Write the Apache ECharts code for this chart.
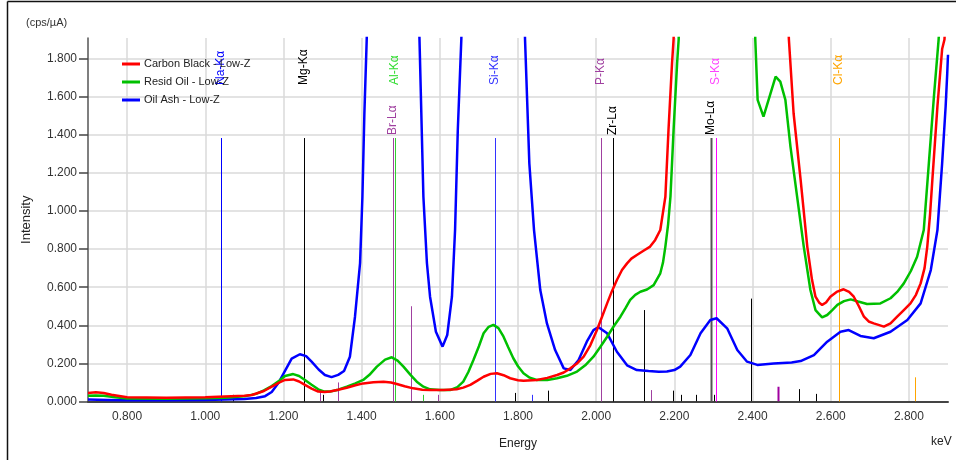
<!DOCTYPE html>
<html>
<head>
<meta charset="utf-8">
<script src="https://cdn.jsdelivr.net/npm/echarts@6.0.0/dist/echarts.min.js"></script>
<style>
  html, body { margin: 0; padding: 0; background: #fff; }
  #chart { width: 956px; height: 460px; }
</style>
</head>
<body>
<div id="chart"></div>
<script>
const FONT = "'Liberation Sans', Arial, sans-serif"

const xTicks = [0.8, 1.0, 1.2, 1.4, 1.6, 1.8, 2.0, 2.2, 2.4, 2.6, 2.8]
const yTicks = [0, 0.2, 0.4, 0.6, 0.8, 1.0, 1.2, 1.4, 1.6, 1.8]

// Oil Ash - Low-Z (blue)
const oilAshE = [0.70, 0.75, 0.80, 0.90, 1.00, 1.05, 1.10, 1.13, 1.153, 1.17, 1.187, 1.205, 1.221, 1.242, 1.258, 1.272, 1.29, 1.306, 1.323, 1.34, 1.355, 1.37, 1.383, 1.396, 1.402, 1.407, 1.413, 1.42, 1.486, 1.54, 1.548, 1.558, 1.567, 1.575, 1.59, 1.607, 1.619, 1.631, 1.639, 1.646, 1.655, 1.665, 1.74, 1.81, 1.818, 1.829, 1.841, 1.857, 1.874, 1.895, 1.917, 1.934, 1.955, 1.976, 1.993, 2.006, 2.028, 2.053, 2.079, 2.104, 2.134, 2.16, 2.181, 2.20, 2.215, 2.241, 2.267, 2.292, 2.308, 2.335, 2.361, 2.386, 2.412, 2.454, 2.50, 2.523, 2.557, 2.591, 2.625, 2.646, 2.676, 2.71, 2.753, 2.796, 2.83, 2.856, 2.873, 2.885, 2.894, 2.898, 2.90]
const oilAshI = [0.010, 0.008, 0.006, 0.006, 0.008, 0.010, 0.013, 0.018, 0.028, 0.050, 0.097, 0.165, 0.225, 0.248, 0.238, 0.209, 0.168, 0.139, 0.128, 0.140, 0.160, 0.235, 0.445, 0.727, 1.075, 1.51, 1.90, 2.5, 6.0, 2.5, 1.90, 1.075, 0.727, 0.55, 0.366, 0.288, 0.349, 0.55, 0.90, 1.425, 1.90, 2.6, 6.0, 2.6, 1.90, 1.25, 0.90, 0.585, 0.41, 0.27, 0.174, 0.165, 0.218, 0.314, 0.375, 0.390, 0.358, 0.261, 0.190, 0.165, 0.160, 0.156, 0.157, 0.165, 0.183, 0.244, 0.358, 0.428, 0.437, 0.384, 0.270, 0.209, 0.192, 0.200, 0.205, 0.212, 0.244, 0.314, 0.366, 0.375, 0.344, 0.332, 0.366, 0.428, 0.515, 0.690, 0.900, 1.25, 1.55, 1.72, 1.82]

// Resid Oil - Low-Z (green)
const residOilE = [0.70, 0.72, 0.74, 0.77, 0.80, 0.90, 1.00, 1.05, 1.10, 1.13, 1.15, 1.17, 1.19, 1.204, 1.225, 1.24, 1.255, 1.272, 1.289, 1.305, 1.319, 1.34, 1.362, 1.384, 1.404, 1.42, 1.439, 1.46, 1.477, 1.492, 1.507, 1.525, 1.541, 1.558, 1.575, 1.60, 1.626, 1.645, 1.66, 1.673, 1.686, 1.70, 1.712, 1.725, 1.737, 1.75, 1.763, 1.775, 1.788, 1.80, 1.814, 1.83, 1.848, 1.875, 1.90, 1.925, 1.951, 1.972, 1.993, 2.01, 2.028, 2.045, 2.062, 2.075, 2.087, 2.10, 2.113, 2.13, 2.147, 2.164, 2.171, 2.177, 2.184, 2.19, 2.198, 2.207, 2.211, 2.22, 2.30, 2.40, 2.407, 2.413, 2.428, 2.459, 2.471, 2.484, 2.497, 2.514, 2.531, 2.548, 2.561, 2.578, 2.591, 2.604, 2.617, 2.634, 2.651, 2.67, 2.693, 2.727, 2.753, 2.77, 2.787, 2.805, 2.821, 2.838, 2.851, 2.864, 2.876, 2.89, 2.90]
const residOilI = [0.030, 0.032, 0.030, 0.022, 0.016, 0.015, 0.017, 0.020, 0.027, 0.040, 0.058, 0.081, 0.110, 0.134, 0.144, 0.134, 0.113, 0.088, 0.064, 0.052, 0.052, 0.062, 0.078, 0.095, 0.113, 0.140, 0.183, 0.220, 0.232, 0.215, 0.183, 0.140, 0.104, 0.078, 0.064, 0.060, 0.060, 0.075, 0.104, 0.155, 0.218, 0.290, 0.358, 0.392, 0.402, 0.385, 0.340, 0.285, 0.227, 0.185, 0.148, 0.125, 0.113, 0.113, 0.122, 0.135, 0.157, 0.190, 0.235, 0.285, 0.340, 0.395, 0.445, 0.490, 0.533, 0.560, 0.576, 0.588, 0.611, 0.673, 0.730, 0.813, 0.930, 1.075, 1.425, 1.775, 1.90, 2.6, 8.0, 2.4, 1.90, 1.583, 1.495, 1.705, 1.679, 1.583, 1.338, 1.075, 0.813, 0.585, 0.480, 0.442, 0.454, 0.480, 0.507, 0.527, 0.536, 0.525, 0.512, 0.515, 0.542, 0.575, 0.620, 0.685, 0.760, 0.900, 1.25, 1.60, 1.90, 2.4, 2.7]

// Carbon Black - Low-Z (red)
const carbonE = [0.70, 0.72, 0.74, 0.76, 0.80, 0.90, 1.00, 1.05, 1.10, 1.119, 1.15, 1.17, 1.19, 1.204, 1.225, 1.24, 1.255, 1.272, 1.289, 1.305, 1.319, 1.34, 1.362, 1.384, 1.404, 1.43, 1.456, 1.475, 1.49, 1.51, 1.532, 1.555, 1.575, 1.61, 1.643, 1.66, 1.678, 1.695, 1.712, 1.73, 1.746, 1.763, 1.78, 1.80, 1.814, 1.848, 1.875, 1.90, 1.917, 1.934, 1.95, 1.968, 1.985, 2.002, 2.015, 2.028, 2.04, 2.053, 2.066, 2.079, 2.09, 2.104, 2.12, 2.138, 2.151, 2.164, 2.177, 2.185, 2.194, 2.198, 2.21, 2.30, 2.48, 2.493, 2.505, 2.523, 2.54, 2.552, 2.561, 2.57, 2.578, 2.588, 2.599, 2.615, 2.633, 2.647, 2.659, 2.672, 2.685, 2.697, 2.71, 2.736, 2.753, 2.77, 2.787, 2.804, 2.818, 2.83, 2.84, 2.847, 2.854, 2.86, 2.873, 2.885, 2.891, 2.90]
const carbonI = [0.045, 0.048, 0.045, 0.035, 0.022, 0.020, 0.022, 0.026, 0.030, 0.034, 0.055, 0.078, 0.100, 0.113, 0.116, 0.105, 0.087, 0.068, 0.052, 0.050, 0.053, 0.062, 0.072, 0.085, 0.095, 0.101, 0.104, 0.100, 0.092, 0.080, 0.069, 0.062, 0.060, 0.060, 0.064, 0.073, 0.087, 0.108, 0.130, 0.145, 0.148, 0.138, 0.122, 0.112, 0.109, 0.113, 0.124, 0.139, 0.152, 0.174, 0.198, 0.235, 0.295, 0.375, 0.445, 0.515, 0.578, 0.638, 0.690, 0.725, 0.750, 0.769, 0.790, 0.813, 0.848, 0.900, 1.075, 1.425, 1.775, 1.90, 2.6, 8.0, 2.6, 1.90, 1.513, 1.163, 0.813, 0.640, 0.550, 0.520, 0.507, 0.520, 0.550, 0.575, 0.589, 0.575, 0.550, 0.500, 0.445, 0.420, 0.410, 0.393, 0.410, 0.445, 0.480, 0.515, 0.560, 0.620, 0.700, 0.813, 0.980, 1.163, 1.55, 1.85, 1.90, 2.3]

// labelled element lines
const peakNames = ['Na-Kα', 'Mg-Kα', 'Br-Lα', 'Al-Kα', 'Si-Kα', 'P-Kα', 'Zr-Lα', 'Mo-Lα', 'S-Kα', 'Cl-Kα']
const peakEnergy = [1.041, 1.253, 1.480, 1.486, 1.740, 2.013, 2.042, 2.293, 2.307, 2.621]
const peakHeight = [1.383, 1.383, 1.383, 1.383, 1.383, 1.383, 1.383, 1.383, 1.383, 1.383]
const peakLow = [false, false, true, false, false, false, true, true, false, false]
const peakColor = ['#0000ff', '#000000', '#a040a0', '#33cc33', '#3333ff', '#a040a0', '#000000', '#555555', '#ff00ff', '#ffa500']
const peakTextColor = ['#0000ff', '#000000', '#a040a0', '#33dd33', '#3333ff', '#a040a0', '#000000', '#000000', '#ff44ff', '#ffa500']

// minor (unlabelled) lines
const minorEnergy = [1.071, 1.2935, 1.302, 1.339, 1.5265, 1.558, 1.595, 1.793, 1.837, 1.8755, 2.123, 2.140, 2.1956, 2.218, 2.256, 2.302, 2.395, 2.464, 2.519, 2.563, 2.621, 2.8146]
const minorHeight = [0.035, 0.065, 0.035, 0.10, 0.50, 0.035, 0.035, 0.045, 0.035, 0.057, 0.48, 0.06, 0.057, 0.035, 0.035, 0.035, 0.54, 0.078, 0.065, 0.04, 0.035, 0.127]
const minorColor = ['#000000', '#a040a0', '#000000', '#a040a0', '#a040a0', '#33cc33', '#a040a0', '#000000', '#3333ff', '#000000', '#000000', '#a040a0', '#000000', '#000000', '#000000', '#000000', '#000000', '#a000a0', '#000000', '#000000', '#000000', '#ffa500']

const pairs = (xs, ys) => xs.map((x, i) => [x, ys[i]])

const chart = echarts.init(document.getElementById('chart'))

const lineSeries = (name, color, xs, ys, z) => ({
  name: name,
  type: 'line',
  showSymbol: false,
  symbol: 'none',
  smooth: false,
  clip: true,
  z: z,
  lineStyle: { color: color, width: 2.5 },
  itemStyle: { color: color },
  data: pairs(xs, ys)
})

const option = {
  animation: false,
  backgroundColor: '#ffffff',
  grid: { left: 88, right: 8, top: 38, bottom: 58.5 },
  legend: {
    left: 117,
    top: 52,
    orient: 'vertical',
    icon: 'rect',
    itemWidth: 18,
    itemHeight: 3,
    itemGap: 4,
    data: ['Carbon Black - Low-Z', 'Resid Oil - Low-Z', 'Oil Ash - Low-Z'],
    textStyle: { fontFamily: FONT, fontSize: 11, color: '#222', lineHeight: 14, padding: [0, 0, 0, -1] }
  },
  xAxis: {
    type: 'value',
    min: 0.7,
    max: 2.9,
    name: 'Energy',
    nameLocation: 'middle',
    nameGap: 36,
    nameTextStyle: { fontFamily: FONT, fontSize: 12, color: '#222' },
    axisLine: { lineStyle: { color: '#444', width: 2 } },
    axisTick: { show: false, customValues: xTicks },
    axisLabel: {
      customValues: xTicks,
      formatter: v => v.toFixed(3),
      fontFamily: FONT, fontSize: 12, color: '#333', margin: 9
    },
    splitLine: { show: true, lineStyle: { color: '#dadada', width: 1.5 } }
  },
  yAxis: {
    type: 'value',
    min: 0,
    max: 1.908,
    name: 'Intensity',
    nameLocation: 'middle',
    nameGap: 55,
    nameTextStyle: { fontFamily: FONT, fontSize: 13, color: '#222' },
    axisLine: { show: true, lineStyle: { color: '#555', width: 1.5 } },
    axisTick: { show: true, inside: false, length: 9, customValues: yTicks, lineStyle: { color: '#444', width: 1.5 } },
    axisLabel: {
      customValues: yTicks,
      formatter: v => v.toFixed(3),
      fontFamily: FONT, fontSize: 12, color: '#333', margin: 11
    },
    splitLine: { show: true, lineStyle: { color: '#dadada', width: 1.5 } }
  },
  graphic: [
    { type: 'line', shape: { x1: 7.5, y1: 1.5, x2: 956, y2: 1.5 }, style: { stroke: '#111', lineWidth: 1.5 } },
    { type: 'line', shape: { x1: 7.5, y1: 1.5, x2: 7.5, y2: 460 }, style: { stroke: '#111', lineWidth: 1.5 } },
    { type: 'text', left: 26, top: 17, style: { text: '(cps/µA)', font: '11px ' + FONT, fill: '#333' } },
    { type: 'text', left: 931, top: 436, style: { text: 'keV', font: '12px ' + FONT, fill: '#222' } }
  ],
  series: [
    {
      type: 'custom',
      z: 1,
      silent: true,
      clip: true,
      data: minorEnergy.map((e, i) => [e, minorHeight[i], i]),
      renderItem: (params, api) => {
        const i = api.value(2)
        const p0 = api.coord([api.value(0), 0])
        const p1 = api.coord([api.value(0), api.value(1)])
        const x = Math.round(p0[0]) + 0.5
        return {
          type: 'line',
          shape: { x1: x, y1: p0[1], x2: x, y2: p1[1] },
          style: { stroke: minorColor[i], lineWidth: i === 17 ? 2 : 1 }
        }
      }
    },
    {
      type: 'custom',
      z: 1,
      silent: true,
      clip: false,
      data: peakEnergy.map((e, i) => [e, peakHeight[i], i]),
      renderItem: (params, api) => {
        const i = api.value(2)
        const p0 = api.coord([api.value(0), 0])
        const p1 = api.coord([api.value(0), api.value(1)])
        const x = Math.round(p0[0]) + 0.5
        return {
          type: 'group',
          children: [
            {
              type: 'line',
              shape: { x1: x, y1: p0[1], x2: x, y2: p1[1] },
              style: { stroke: peakColor[i], lineWidth: i === 7 ? 2 : 1 }
            },
            {
              type: 'text',
              x: x - 1,
              y: p1[1] - (peakLow[i] ? 3 : 53),
              rotation: Math.PI / 2,
              style: {
                text: peakNames[i],
                font: '12px ' + FONT,
                fill: peakTextColor[i],
                align: 'left',
                verticalAlign: 'middle'
              }
            }
          ]
        }
      }
    },
    lineSeries('Oil Ash - Low-Z', '#0000ff', oilAshE, oilAshI, 3),
    lineSeries('Resid Oil - Low-Z', '#00c000', residOilE, residOilI, 4),
    lineSeries('Carbon Black - Low-Z', '#ff0000', carbonE, carbonI, 5)
  ]
}

chart.setOption(option)
</script>
</body>
</html>
